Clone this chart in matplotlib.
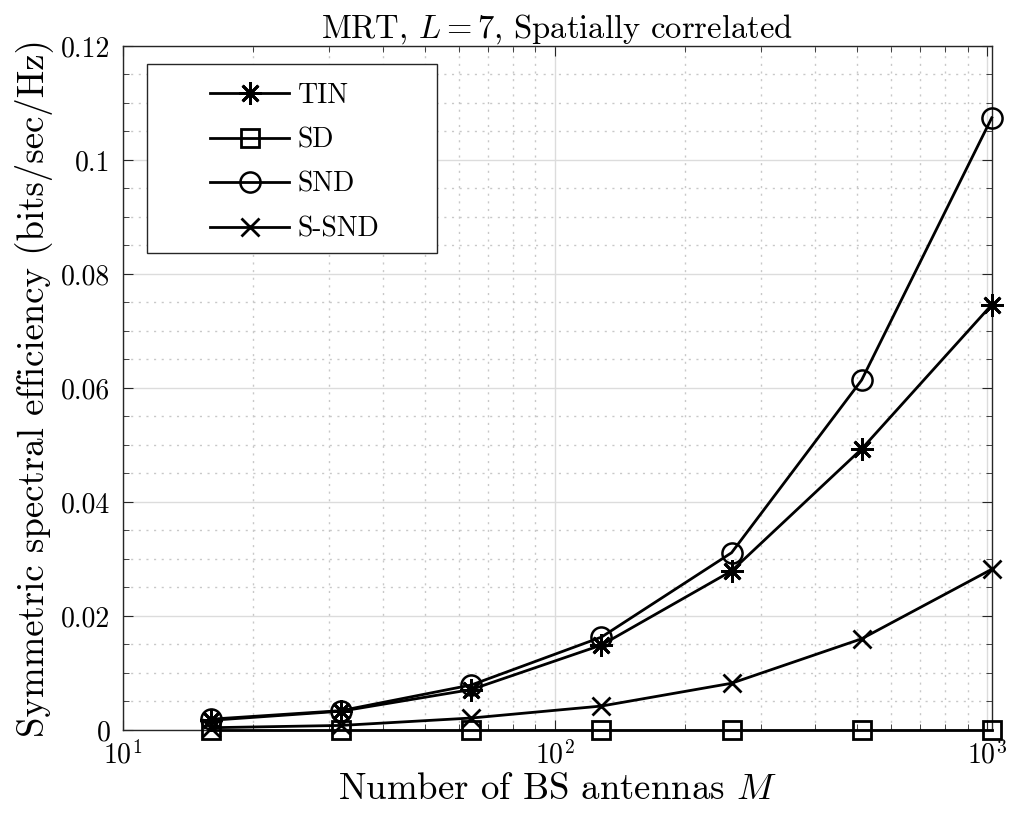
import matplotlib
matplotlib.use("Agg")
import matplotlib.pyplot as plt
from matplotlib.patches import Rectangle
from matplotlib.ticker import FixedLocator, NullFormatter, LogLocator

plt.rcParams['font.family'] = 'serif'
plt.rcParams['font.serif'] = ['cmr10', 'DejaVu Serif']
plt.rcParams['mathtext.fontset'] = 'cm'
plt.rcParams['axes.formatter.use_mathtext'] = True

M = [16, 32, 64, 128, 256, 512, 1024]
tin = [0.0017, 0.0033, 0.0071, 0.0149, 0.0279, 0.0493, 0.0746]
sd = [0.0, 0.0, 0.0, 0.0, 0.0, 0.0, 0.0]
snd = [0.0019, 0.0034, 0.0079, 0.0163, 0.0311, 0.0614, 0.1074]
ssnd = [0.0004, 0.0008, 0.0021, 0.0042, 0.0082, 0.0160, 0.0282]
labels = ['TIN', 'SD', 'SND', 'S-SND']
yticks = [0, 0.02, 0.04, 0.06, 0.08, 0.1, 0.12]
yticklabels = ['0', '0.02', '0.04', '0.06', '0.08', '0.1', '0.12']

fig = plt.figure(figsize=(10.09, 8.17), dpi=100)
ax = fig.add_axes([0.1219, 0.1065, 0.8610, 0.8372])

lw = 2.0
ax.plot(M, tin, color='black', lw=lw, marker=(8, 2, 0), ms=16, mew=2.0, label=labels[0], clip_on=False, zorder=3)
ax.plot(M, sd, color='black', lw=lw, marker='s', ms=13, mfc='none', mew=2.0, label=labels[1], clip_on=False, zorder=3)
ax.plot(M, snd, color='black', lw=lw, marker='o', ms=14.5, mfc='none', mew=1.8, label=labels[2], clip_on=False, zorder=3)
ax.plot(M, ssnd, color='black', lw=lw, marker='x', ms=12.5, mew=2.0, label=labels[3], clip_on=False, zorder=3)

ax.set_xscale('log')
ax.set_xlim(10, 1024)
ax.set_ylim(0, 0.12)
ax.set_xticks([10, 100, 1000])
ax.set_xticklabels([r'$10^{1}$', r'$10^{2}$', r'$10^{3}$'])
ax.xaxis.set_minor_locator(LogLocator(base=10, subs=range(2, 10)))
ax.xaxis.set_minor_formatter(NullFormatter())
ax.set_yticks(yticks)
ax.set_yticklabels(yticklabels)
ax.yaxis.set_minor_locator(FixedLocator([i * 0.005 for i in range(25)]))

ax.grid(True, which='major', color='#dcdcdc', lw=1.0, ls='-')
ax.grid(True, which='minor', color='#c8c8c8', lw=1.0, ls=(0, (1.5, 4)))
ax.set_axisbelow(True)

ax.tick_params(which='both', direction='in', top=True, right=True, colors='#262626')
ax.tick_params(which='major', length=7, labelsize=20)
ax.tick_params(axis='x', which='major', pad=8)
ax.tick_params(axis='y', which='major', pad=9)
ax.tick_params(which='minor', length=4)
for t in ax.get_xticklabels() + ax.get_yticklabels():
    t.set_color('black')
for s in ax.spines.values():
    s.set_color('#262626')
    s.set_linewidth(1.0)

ax.set_xlabel(r'Number of BS antennas $M$', fontsize=26.5, labelpad=2)
ax.set_ylabel('Symmetric spectral efficiency (bits/sec/Hz)', fontsize=26.5, labelpad=6)
ax.set_title(r'MRT, $L=7$, Spatially correlated', fontsize=23.5, pad=1)

# legend frame (MATLAB-style wide box)
frame = Rectangle((0.0276, 0.6974), 0.3339, 0.2763, transform=ax.transAxes,
                  facecolor='white', edgecolor='#262626', lw=1.0, zorder=4)
ax.add_patch(frame)
leg = ax.legend(loc='upper left', bbox_to_anchor=(0.1002, 0.947), fontsize=20,
                frameon=False, handlelength=2.85, borderpad=0, labelspacing=0.66,
                borderaxespad=0, handletextpad=0.3)
leg.set_zorder(5)

fig.savefig('out.png', dpi=100)
